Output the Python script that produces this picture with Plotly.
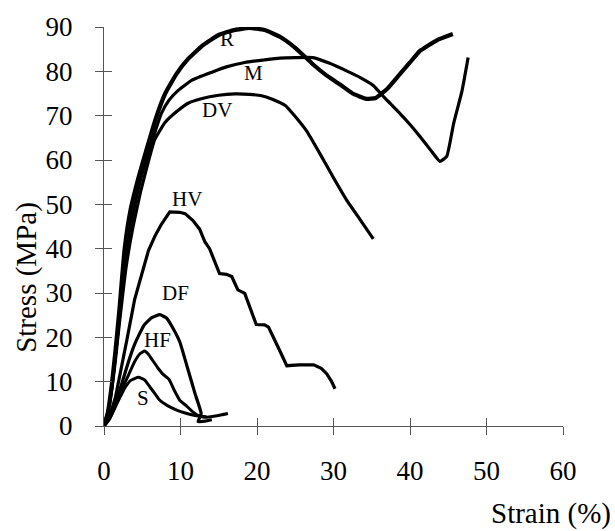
import plotly.graph_objects as go

# ---- data ----
r_x = [0, 0.5, 1, 1.5, 2, 2.7, 3.5, 4.5, 5.5, 6.7, 8, 9.5, 11, 13, 15, 17, 19, 21, 23, 25, 27.3, 29, 30.8, 32.5, 34.3, 35.5, 37, 38.7, 40, 41.3, 43.5, 45.6]
r_y = [0, 3, 9, 17, 26, 40, 49, 56, 62, 69, 75, 79.5, 82.8, 86, 88.2, 89.3, 89.8, 89.3, 87.8, 85.3, 81.6, 79.2, 77.1, 75, 73.8, 74, 76, 79.4, 82, 84.6, 87, 88.4]

m_x = [0, 0.5, 1, 1.5, 2, 2.8, 3.7, 4.7, 5.7, 6.7, 7.5, 8.5, 9.7, 11.5, 14.1, 16, 18.4, 21, 23, 25, 27.3, 29.5, 31.7, 33.5, 35.2, 36.7, 38.3, 40, 41.3, 42.8, 43.9, 44.8, 45.7, 46.8, 47.6]
m_y = [0, 3, 8.5, 16, 24, 38, 47, 55, 61, 66.5, 70.5, 73.5, 75.7, 78, 79.8, 81, 82, 82.6, 83, 83.1, 83.1, 81.8, 80.1, 78.6, 76.8, 74, 71.2, 68, 65.3, 62, 59.7, 60.8, 68.2, 75.6, 83.1]

dv_x = [0, 0.5, 1, 1.5, 2, 2.9, 3.8, 4.8, 5.7, 6.6, 8, 9.7, 11, 12.7, 15, 17.1, 19, 20.6, 22, 23.7, 25, 26.5, 28.2, 30, 31.7, 33.5, 35.2]
dv_y = [0, 3, 8, 15, 23, 36, 45, 53, 59, 64.5, 68.5, 71.2, 72.8, 73.8, 74.6, 74.9, 74.8, 74.5, 73.7, 72.3, 69.8, 66.5, 61.5, 56, 51, 46.5, 42.2]

hv_x = [0, 0.7, 1.5, 2.3, 3, 4, 5, 5.8, 6.7, 7.5, 8.6, 9.9, 10.6, 11.6, 12.5, 13.2, 13.8, 14.5, 15.1, 16.0, 16.7, 17.1, 17.5, 18.4, 19.2, 19.9, 21.0, 21.5, 22.7, 23.9, 25.5, 27.4, 28.4, 29.1, 29.7, 30.2]
hv_y = [0, 2, 6.5, 13, 19.5, 28.5, 35, 39.5, 43, 45.5, 48.3, 48.2, 47.9, 46.4, 44.4, 41.5, 40, 37.2, 34.4, 34.2, 33.7, 32.2, 30.7, 29.9, 26.2, 22.9, 22.8, 22.3, 18, 13.6, 13.8, 13.8, 13.0, 11.8, 10.2, 8.4]

df_x = [0, 0.8, 1.6, 2.4, 3.2, 4, 4.7, 5.3, 6.2, 7.3, 8.2, 9.0, 9.9, 10.9, 11.9, 12.7, 12.3, 13.2, 14.1]
df_y = [0, 2, 5.5, 10, 14.5, 18.4, 21, 22.9, 24.4, 25.1, 24.3, 22.1, 19, 13.2, 7.3, 2.8, 1.0, 1.1, 1.4]

hf_x = [0, 0.8, 1.6, 2.4, 3.2, 4, 4.7, 5.3, 5.8, 6.4, 7.0, 7.7, 8.5, 9.2, 9.9, 10.8, 11.6, 12.5, 13.5, 14.8, 16.2]
hf_y = [0, 2, 5, 8.5, 11.5, 14.5, 16.3, 16.9, 16.2, 14.7, 13.2, 11.7, 10.5, 8, 5.8, 4.5, 3.2, 2.2, 2.0, 2.3, 2.8]

s_x = [0, 0.7, 1.4, 2.1, 2.8, 3.5, 4.5, 5.3, 6.0, 6.7, 7.3, 8.3, 9.5, 10.5, 11.6, 12.5, 13.4]
s_y = [0, 1.5, 4, 6.5, 8.8, 10.3, 11, 10.4, 8.8, 7.2, 5.8, 4.6, 3.6, 3.0, 2.5, 2.2, 2.1]

label_names = ["R", "M", "DV", "HV", "DF", "HF", "S"]
label_x = [16.1, 19.6, 14.8, 10.9, 9.3, 7.0, 5.1]
label_y = [87.2, 79.6, 71.3, 51.3, 29.9, 19.4, 6.4]

x_ticks = [0, 10, 20, 30, 40, 50, 60]
y_ticks = [0, 10, 20, 30, 40, 50, 60, 70, 80, 90]

FONT = "Liberation Serif"

series = [
    (r_x, r_y, 4.2, "spline"),
    (m_x, m_y, 3.2, "spline"),
    (dv_x, dv_y, 3.2, "spline"),
    (hv_x, hv_y, 3.2, "linear"),
    (df_x, df_y, 3.2, "spline"),
    (hf_x, hf_y, 3.0, "spline"),
    (s_x, s_y, 3.0, "spline"),
]

fig = go.Figure()
for xs, ys, w, shp in series:
    fig.add_trace(go.Scatter(x=xs, y=ys, mode="lines",
                             line=dict(color="black", width=w, shape=shp, smoothing=0.4),
                             hoverinfo="skip", showlegend=False))

# invisible trace on overlay axes (inner halves of the crossing ticks)
fig.add_trace(go.Scatter(x=x_ticks, y=x_ticks, mode="lines", xaxis="x2", yaxis="y2",
                         line=dict(width=0, color="rgba(0,0,0,0)"),
                         hoverinfo="skip", showlegend=False))

for name, lx, ly in zip(label_names, label_x, label_y):
    fig.add_annotation(x=lx, y=ly, text=name, showarrow=False,
                       font=dict(family=FONT, size=21, color="black"),
                       xanchor="center", yanchor="middle")

fig.add_annotation(xref="paper", yref="paper", x=-0.1675, y=0.3716,
                   text="Stress (MPa)", textangle=-90, showarrow=False,
                   font=dict(family=FONT, size=29, color="black"),
                   xanchor="center", yanchor="middle")
fig.add_annotation(xref="paper", yref="paper", x=1.108, y=-0.2205,
                   text="Strain (%)", showarrow=False,
                   font=dict(family=FONT, size=29, color="black"),
                   xanchor="right", yanchor="middle")

axis_common = dict(showgrid=False, zeroline=False, showline=True,
                   linecolor="#555", linewidth=1, tickcolor="#555",
                   tickwidth=1, ticklen=8)

fig.update_layout(
    width=615, height=531,
    margin=dict(l=104, r=52, t=22, b=105),
    paper_bgcolor="white", plot_bgcolor="white",
    xaxis=dict(range=[0, 60], tickvals=x_ticks, ticks="outside",
               tickfont=dict(family=FONT, size=27, color="black"),
               ticklabelstandoff=13, **axis_common),
    yaxis=dict(range=[0, 90], tickvals=y_ticks, ticks="outside",
               tickfont=dict(family=FONT, size=27, color="black"),
               ticklabelstandoff=17, **axis_common),
    xaxis2=dict(range=[0, 60], tickvals=x_ticks, ticks="inside", overlaying="x",
                anchor="y2", side="bottom", showticklabels=False, **axis_common),
    yaxis2=dict(range=[0, 90], tickvals=y_ticks, ticks="inside", overlaying="y",
                anchor="x2", side="left", showticklabels=False, **axis_common),
)

fig.write_html("out.html",
               config={"displayModeBar": False},
               post_script="document.body.style.margin='0';document.body.style.padding='0';")
